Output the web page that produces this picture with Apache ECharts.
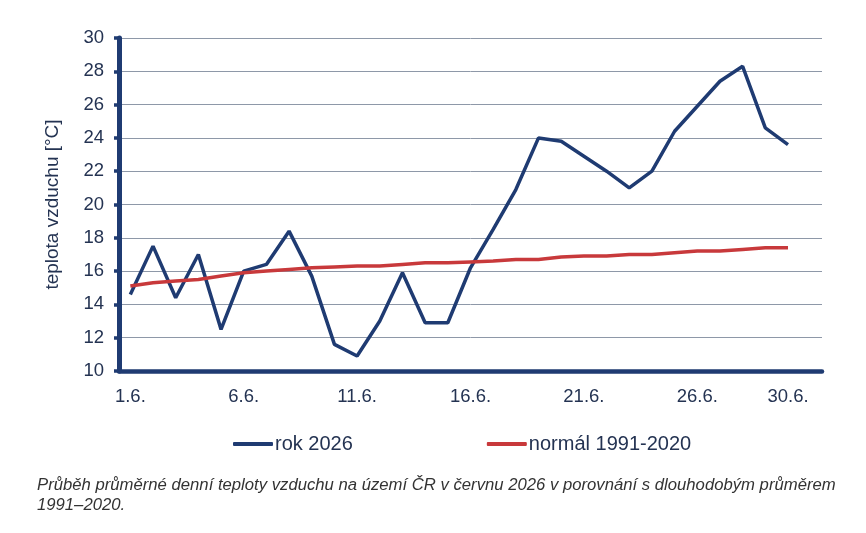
<!DOCTYPE html>
<html>
<head>
<meta charset="utf-8">
<script src="https://cdn.jsdelivr.net/npm/echarts@6/dist/echarts.min.js"></script>
<style>
  html, body { margin: 0; padding: 0; background: #fff; }
  #root { width: 866px; height: 533px; }
</style>
</head>
<body>
<div id="root"></div>
<script>
// dny v červnu
const days = ['1.6.', '2.6.', '3.6.', '4.6.', '5.6.', '6.6.', '7.6.', '8.6.', '9.6.', '10.6.',
  '11.6.', '12.6.', '13.6.', '14.6.', '15.6.', '16.6.', '17.6.', '18.6.', '19.6.', '20.6.',
  '21.6.', '22.6.', '23.6.', '24.6.', '25.6.', '26.6.', '27.6.', '28.6.', '29.6.', '30.6.']

// průměrná denní teplota 2026
const rok2026 = [14.6, 17.5, 14.4, 17.0, 12.5, 16.0, 16.4, 18.4, 15.7, 11.6,
  10.9, 13.0, 15.9, 12.9, 12.9, 16.2, 18.5, 20.9, 24.0, 23.8,
  22.9, 22.0, 21.0, 22.0, 24.4, 25.9, 27.4, 28.3, 24.6, 23.6]

// normál 1991-2020
const normal = [15.1, 15.3, 15.4, 15.5, 15.7, 15.9, 16.0, 16.1, 16.2, 16.25,
  16.3, 16.3, 16.4, 16.5, 16.5, 16.55, 16.6, 16.7, 16.7, 16.85,
  16.9, 16.9, 17.0, 17.0, 17.1, 17.2, 17.2, 17.3, 17.4, 17.4]

const yTicks = { min: 10, max: 30, interval: 2 }

const navy = '#1F3B72'
const red = '#C8393B'
const textColor = '#243352'
const font = 'Liberation Sans, Arial, sans-serif'

const chart = echarts.init(document.getElementById('root'), null, { renderer: 'canvas' })

chart.setOption({
  animation: false,
  grid: { left: 119, top: 38, right: 44, bottom: 162 },
  legend: {
    left: 228,
    top: 429,
    itemGap: 134,
    itemWidth: 40,
    itemHeight: 4,
    icon: 'roundRect',
    textStyle: { fontFamily: font, fontSize: 20, color: textColor, padding: [0, 0, 0, -3] },
    data: ['rok 2026', 'normál 1991-2020']
  },
  xAxis: {
    type: 'category',
    boundaryGap: true,
    // prázdná kategorie na konci, osa pokračuje za 30.6.
    data: [...days, ''],
    axisLine: { lineStyle: { color: navy, width: 4.5 } },
    axisTick: { interval: 0, length: 6, lineStyle: { color: navy, width: 3 } },
    axisLabel: {
      interval: (i) => i % 5 === 0 || i === days.length - 1,
      margin: 16,
      fontFamily: font,
      fontSize: 18.5,
      color: textColor
    },
    splitLine: { show: false }
  },
  yAxis: {
    type: 'value',
    min: yTicks.min,
    max: yTicks.max,
    interval: yTicks.interval,
    name: 'teplota vzduchu [°C]',
    nameLocation: 'middle',
    nameGap: 57,
    nameTextStyle: { fontFamily: font, fontSize: 19, color: textColor },
    axisLine: { show: true, lineStyle: { color: navy, width: 5 } },
    axisTick: { show: true, length: 5, lineStyle: { color: navy, width: 3.5 } },
    axisLabel: {
      margin: 15,
      fontFamily: font,
      fontSize: 18.5,
      color: textColor
    },
    splitLine: { lineStyle: { color: '#8E98A8', width: 1 } }
  },
  series: [
    {
      name: 'rok 2026',
      type: 'line',
      data: rok2026,
      symbol: 'none',
      z: 3,
      lineStyle: { color: navy, width: 3.5 },
      itemStyle: { color: navy }
    },
    {
      name: 'normál 1991-2020',
      type: 'line',
      data: normal,
      symbol: 'none',
      z: 4,
      lineStyle: { color: red, width: 3.5 },
      itemStyle: { color: red }
    }
  ],
  graphic: [
    {
      type: 'text',
      left: 37,
      top: 475,
      style: {
        text: 'Průběh průměrné denní teploty vzduchu na území ČR v červnu 2026 v porovnání s dlouhodobým průměrem\n1991–2020.',
        fontFamily: font,
        fontStyle: 'italic',
        fontSize: 16.7,
        lineHeight: 20,
        fill: '#333333'
      }
    }
  ]
})
</script>
</body>
</html>
